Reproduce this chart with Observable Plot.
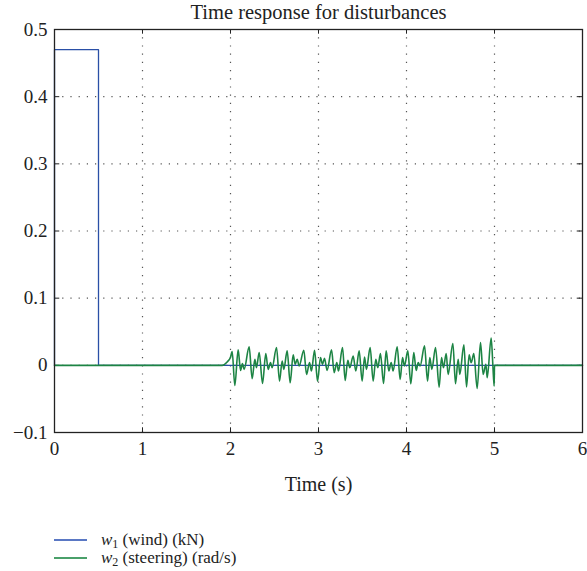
<!DOCTYPE html>
<html>
<head>
<meta charset="utf-8">
<script src="https://cdn.jsdelivr.net/npm/d3@7"></script>
<script src="https://cdn.jsdelivr.net/npm/@observablehq/plot@0.6"></script>
<style>
  body { margin: 0; background: #fff; font-family: "Liberation Serif", "DejaVu Serif", serif; }
  #chart svg { display: block; }
  .legend { margin-left: 54px; margin-top: 31px; font-size: 17px; color: #222; }
  .legend .row { display: flex; align-items: center; height: 18px; }
  .legend .row span.t { line-height: 16px; }
  .legend .sw { width: 33px; height: 2px; margin-right: 14px; }
  .legend i { font-style: italic; }
  .legend sub { font-size: 12px; vertical-align: -3px; line-height: 0; }
</style>
</head>
<body>
<div id="chart"></div>
<div class="legend">
  <div class="row"><span class="sw" style="background:#5a78c4"></span><span class="t"><i>w</i><sub>1</sub>&nbsp;(wind) (kN)</span></div>
  <div class="row"><span class="sw" style="background:#4aa06a"></span><span class="t"><i>w</i><sub>2</sub>&nbsp;(steering) (rad/s)</span></div>
</div>
<script>
const title = "Time response for disturbances";
const xLabel = "Time (s)";
const xTicks = [0, 1, 2, 3, 4, 5, 6];
const yTicks = [-0.1, 0, 0.1, 0.2, 0.3, 0.4, 0.5];

// w1 (wind): step pulse
const windT = [0, 0, 0.5, 0.5, 6];
const windV = [0, 0.47, 0.47, 0, 0];

// w2 (steering)
const steerT = [0, 1.905, 1.962, 2.0, 2.019, 2.049, 2.087, 2.114, 2.136, 2.155, 2.212, 2.246, 2.277, 2.295, 2.326, 2.364, 2.401, 2.428, 2.455, 2.473,
  2.523, 2.557, 2.587, 2.606, 2.644, 2.678, 2.712, 2.735, 2.758, 2.780, 2.833, 2.864, 2.898, 2.920, 2.955, 2.989,
  3.023, 3.045, 3.068, 3.098, 3.148, 3.178, 3.208, 3.227, 3.273, 3.303, 3.333, 3.356, 3.394, 3.424, 3.462, 3.496,
  3.523, 3.545, 3.587, 3.621, 3.651, 3.674, 3.704, 3.739, 3.769, 3.799, 3.826, 3.848, 3.894, 3.928, 3.955, 3.977,
  4.015, 4.049, 4.083, 4.110, 4.133, 4.155, 4.205, 4.239, 4.265, 4.288, 4.330, 4.371, 4.398, 4.420, 4.451, 4.473,
  4.527, 4.557, 4.587, 4.606, 4.652, 4.682, 4.712, 4.735, 4.765, 4.803, 4.841, 4.871, 4.902, 4.917, 4.962, 4.981, 4.996, 5.0, 6.0];
const steerV = [0, 0, 0.005, 0.012, 0.0204, -0.030, 0.023, -0.0075, 0.0025, -0.006, 0.0275, -0.020, 0.009, -0.0035, 0.019, -0.027, 0.0175, -0.006, 0.004, -0.0035,
  0.0265, -0.0235, 0.0065, -0.006, 0.0215, -0.026, 0.0155, 0.0015, 0.009, -0.001, 0.0225, -0.0135, 0.004, -0.0085, 0.0225, -0.0235,
  0.0115, 0.0015, 0.0105, -0.0075, 0.023, -0.011, 0.004, -0.0085, 0.0265, -0.0225, 0.0075, -0.0035, 0.014, -0.0085, 0.0215, -0.0235,
  0.0125, -0.006, 0.0265, -0.0235, 0.009, -0.0035, 0.0175, -0.027, 0.0215, -0.0085, 0.004, -0.0085, 0.0275, -0.021, 0.0115, -0.001,
  0.0215, -0.0275, 0.019, -0.0075, 0.004, -0.001, 0.029, -0.0235, 0.0115, -0.006, 0.0265, -0.0325, 0.0115, -0.0035, 0.0175, -0.0135,
  0.0325, -0.0275, 0.009, -0.0135, 0.0305, -0.032, 0.0155, 0.004, 0.0175, -0.0345, 0.034, -0.0135, 0.0015, -0.0185, 0.0405, 0.0015, -0.031, 0, 0];

const wind = windT.map((t, i) => ({t, v: windV[i]}));
const steer = steerT.map((t, i) => ({t, v: steerV[i]}));

const fmtY = d => d === 0 ? "0" : d3.format(".1f")(d).replace("-", "\u2212");

const chart = Plot.plot({
  width: 587,
  height: 500,
  marginLeft: 54,
  marginRight: 5,
  marginTop: 29,
  marginBottom: 68,
  style: {fontFamily: "'Liberation Serif', 'DejaVu Serif', serif", fontSize: "19px", color: "#222", background: "#fff"},
  x: {domain: [0, 6], ticks: xTicks, tickSize: 0, tickPadding: 9, tickFormat: d => String(d), label: null},
  y: {domain: [-0.1, 0.5], ticks: yTicks, tickSize: 0, tickPadding: 7, tickFormat: fmtY, label: null},
  marks: [
    Plot.gridX(xTicks.slice(1, -1), {stroke: "#555", strokeOpacity: 1, strokeWidth: 1.2, strokeDasharray: "1.2,7"}),
    Plot.gridY(yTicks.slice(1, -1), {stroke: "#555", strokeOpacity: 1, strokeWidth: 1.2, strokeDasharray: "1.2,7"}),
    Plot.ruleX(xTicks.slice(1, -1), {y1: -0.1, y2: -0.093, stroke: "#222"}),
    Plot.ruleX(xTicks.slice(1, -1), {y1: 0.5, y2: 0.493, stroke: "#222"}),
    Plot.ruleY(yTicks.slice(1, -1), {x1: 0, x2: 0.06, stroke: "#222"}),
    Plot.ruleY(yTicks.slice(1, -1), {x1: 5.94, x2: 6, stroke: "#222"}),
    Plot.line(wind, {x: "t", y: "v", stroke: "#2a4fa6", strokeWidth: 1.3}),
    Plot.line(steer, {x: "t", y: "v", stroke: "#1d8444", strokeWidth: 1.6, curve: "monotone-x"}),
    Plot.frame({stroke: "#222", strokeWidth: 1.3}),
    Plot.text([title], {frameAnchor: "top", dy: -25, fontSize: 20.5, fill: "#222"}),
    Plot.text([xLabel], {frameAnchor: "bottom", dy: 58, fontSize: 20, fill: "#222"})
  ]
});
document.getElementById("chart").appendChild(chart);
</script>
</body>
</html>
